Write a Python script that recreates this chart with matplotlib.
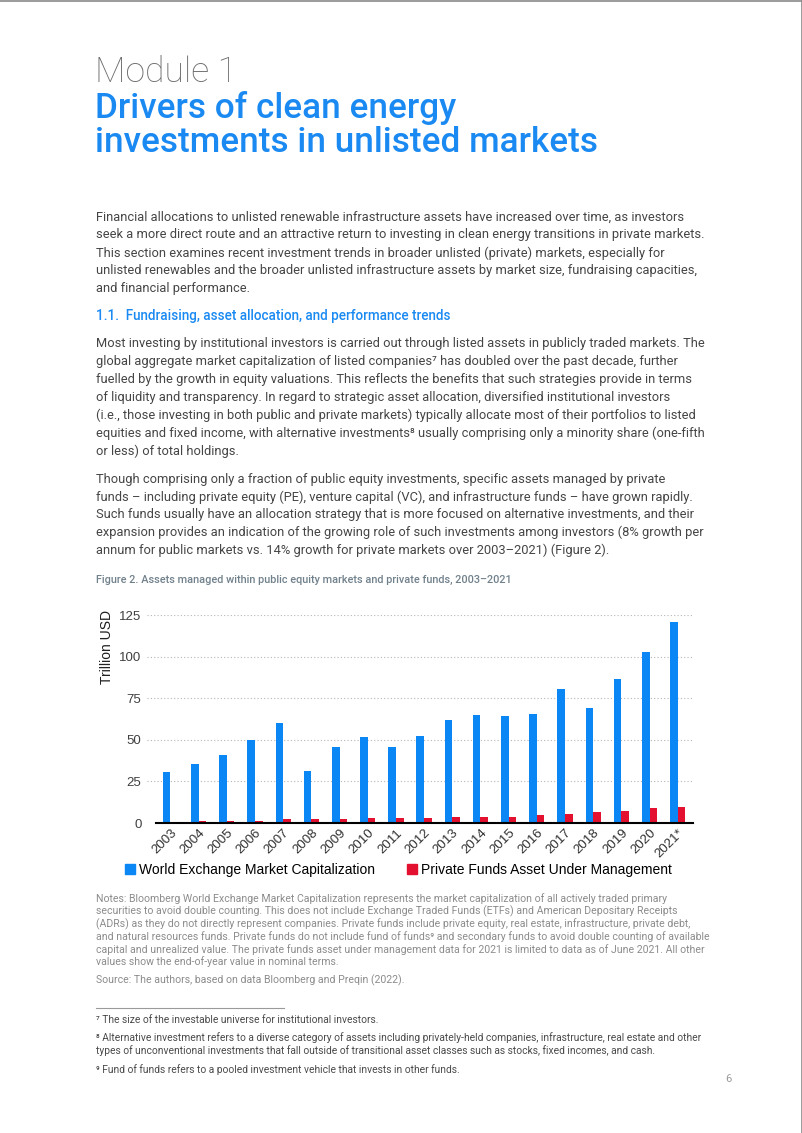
import matplotlib
matplotlib.use("Agg")
import matplotlib.pyplot as plt
from matplotlib.patches import Patch
from matplotlib.lines import Line2D
import numpy as np

# ---------------- data ----------------
years = ["2003", "2004", "2005", "2006", "2007", "2008", "2009", "2010", "2011", "2012",
         "2013", "2014", "2015", "2016", "2017", "2018", "2019", "2020", "2021*"]
world_cap = [30.6, 35.6, 40.6, 50.0, 59.8, 31.4, 45.8, 51.6, 45.8, 52.4,
             61.6, 65.0, 64.2, 65.8, 80.8, 69.2, 86.6, 102.6, 121.0]
private_aum = [0.6, 1.4, 1.4, 1.4, 2.2, 2.2, 2.2, 3.0, 3.0, 3.0,
               3.8, 3.8, 3.8, 4.6, 5.6, 6.4, 7.4, 9.0, 9.6]
yticks = [0, 25, 50, 75, 100, 125]
series_labels = ["World Exchange Market Capitalization", "Private Funds Asset Under Management"]

# ---------------- page text ----------------
module_line = "Module 1"
title_lines = ["Drivers of clean energy", "investments in unlisted markets"]
para1 = [
    "Financial allocations to unlisted renewable infrastructure assets have increased over time, as investors",
    "seek a more direct route and an attractive return to investing in clean energy transitions in private markets.",
    "This section examines recent investment trends in broader unlisted (private) markets, especially for",
    "unlisted renewables and the broader unlisted infrastructure assets by market size, fundraising capacities,",
    "and financial performance.",
]
heading = "1.1.  Fundraising, asset allocation, and performance trends"
para2 = [
    "Most investing by institutional investors is carried out through listed assets in publicly traded markets. The",
    "global aggregate market capitalization of listed companies\u2077 has doubled over the past decade, further",
    "fuelled by the growth in equity valuations. This reflects the benefits that such strategies provide in terms",
    "of liquidity and transparency. In regard to strategic asset allocation, diversified institutional investors",
    "(i.e., those investing in both public and private markets) typically allocate most of their portfolios to listed",
    "equities and fixed income, with alternative investments\u2078 usually comprising only a minority share (one-fifth",
    "or less) of total holdings.",
]
para3 = [
    "Though comprising only a fraction of public equity investments, specific assets managed by private",
    "funds \u2013 including private equity (PE), venture capital (VC), and infrastructure funds \u2013 have grown rapidly.",
    "Such funds usually have an allocation strategy that is more focused on alternative investments, and their",
    "expansion provides an indication of the growing role of such investments among investors (8% growth per",
    "annum for public markets vs. 14% growth for private markets over 2003\u20132021) (Figure 2).",
]
caption = "Figure 2. Assets managed within public equity markets and private funds, 2003\u20132021"
notes = [
    "Notes: Bloomberg World Exchange Market Capitalization represents the market capitalization of all actively traded primary",
    "securities to avoid double counting. This does not include Exchange Traded Funds (ETFs) and American Depositary Receipts",
    "(ADRs) as they do not directly represent companies. Private funds include private equity, real estate, infrastructure, private debt,",
    "and natural resources funds. Private funds do not include fund of funds\u2079 and secondary funds to avoid double counting of available",
    "capital and unrealized value. The private funds asset under management data for 2021 is limited to data as of June 2021. All other",
    "values show the end-of-year value in nominal terms.",
]
source = "Source: The authors, based on data Bloomberg and Preqin (2022)."
footnotes = [
    ["\u2077 The size of the investable universe for institutional investors."],
    ["\u2078 Alternative investment refers to a diverse category of assets including privately-held companies, infrastructure, real estate and other",
     "types of unconventional investments that fall outside of transitional asset classes such as stocks, fixed incomes, and cash."],
    ["\u2079 Fund of funds refers to a pooled investment vehicle that invests in other funds."],
]
page_no = "6"

# ---------------- figure ----------------
W, H = 802, 1133
fig = plt.figure(figsize=(W / 100, H / 100), dpi=100)
renderer = fig.canvas.get_renderer()

BODY = ["Roboto", "DejaVu Sans"]
CHART = ["Liberation Sans", "DejaVu Sans"]
BLUE = "#0a86f5"
TITLE_BLUE = "#1a8af2"
RED = "#e3102f"
TEXT = "#454545"


def fy(y):
    return 1 - y / H


def fx(x):
    return x / W


def fit(text, target, **kw):
    t = fig.text(0, 0, text, fontsize=10, **kw)
    w = t.get_window_extent(renderer).width
    t.remove()
    return 10 * target / w


def put(x, y, s, **kw):
    fig.text(fx(x), fy(y), s, va="center", ha="left", **kw)


X0 = 96
# Title
fs_mod = fit(module_line, 142, family=BODY, weight="light")
put(X0 - 1, 72, module_line, fontsize=fs_mod, family=BODY, weight="light", color="#6e6e6e")
fs_title = fit(title_lines[1], 502, family=BODY, weight="medium")
for i, s in enumerate(title_lines):
    put(X0 - 1, 108 + i * 35, s, fontsize=fs_title, family=BODY, weight="medium", color=TITLE_BLUE)

# Body
fs_body = fit(para1[1], 610, family=BODY, weight="normal")
LS = 17.9
for i, s in enumerate(para1):
    put(X0, 217 + i * LS, s, fontsize=fs_body, family=BODY, color=TEXT)
fs_head = fit(heading, 354, family=BODY, weight="medium")
put(X0, 316, heading, fontsize=fs_head, family=BODY, weight="medium", color=TITLE_BLUE)
for i, s in enumerate(para2):
    put(X0, 344 + i * LS, s, fontsize=fs_body, family=BODY, color=TEXT)
for i, s in enumerate(para3):
    put(X0, 479 + i * LS, s, fontsize=fs_body, family=BODY, color=TEXT)

fs_cap = fit(caption, 414, family=BODY, weight="medium")
put(X0, 580, caption, fontsize=fs_cap, family=BODY, weight="medium", color="#71818c")

# Notes
fs_notes = fit(notes[3], 609, family=BODY, weight="normal")
for i, s in enumerate(notes):
    put(X0, 899 + i * 12.6, s, fontsize=fs_notes, family=BODY, color="#8c8c8c")
put(X0, 980, source, fontsize=fs_notes, family=BODY, color="#8c8c8c")

# separator
fig.add_artist(Line2D([fx(96), fx(284)], [fy(1008), fy(1008)], color="#9a9a9a", lw=0.8))

fs_foot = fit(footnotes[1][0], 606, family=BODY, weight="normal")
foot_y = [1020, 1038, 1070]
for ys, lines in zip(foot_y, footnotes):
    for j, s in enumerate(lines):
        put(X0, ys + j * 13, s, fontsize=fs_foot, family=BODY, color="#4a4a4a")
put(725, 1079, page_no, fontsize=fs_foot * 1.1, family=BODY, color="#9a9a9a")

# page border (top and right)
fig.add_artist(Line2D([0, 1], [fy(0.5), fy(0.5)], color="#8a8a8a", lw=1.2))
fig.add_artist(Line2D([fx(801.5), fx(801.5)], [0, 1], color="#8a8a8a", lw=1.2))

# ---------------- chart ----------------
ax_left, ax_right, ax_top, ax_bot = 147, 693, 615, 823
ax = fig.add_axes([fx(ax_left), fy(ax_bot), (ax_right - ax_left) / W, (ax_bot - ax_top) / H])
x = np.arange(len(years))
bw = 0.27
ax.bar(x - bw / 2, world_cap, width=bw, color=BLUE, zorder=3)
ax.bar(x + bw / 2, private_aum, width=bw, color=RED, zorder=3)
ax.set_ylim(0, 125)
ax.set_xlim(-0.83, len(years) - 1 + 0.54)
ax.set_yticks(yticks)
ax.yaxis.grid(True, linestyle=(0, (1, 2)), color="#b5b5b5", lw=0.8, zorder=0)
for sp in ax.spines.values():
    sp.set_visible(False)
ax.plot([-0.51, len(years) - 1 + 0.54], [0, 0], color="black", lw=1.5, zorder=4, clip_on=False)
ax.tick_params(axis="y", length=0, pad=4, labelsize=9.5, labelcolor="#404040")
for lab in ax.get_yticklabels():
    lab.set_family(CHART)
ax.set_xticks(x)
ax.set_xticklabels(years, rotation=45, ha="right", va="top", rotation_mode="anchor",
                   fontsize=9.5, color="#303030", family=CHART)
ax.tick_params(axis="x", length=0, pad=3)

fig.text(fx(107), fy(610), "Trillion USD", rotation=90, ha="center", va="top",
         fontsize=10, family=CHART, color="#202020")

handles = [Patch(color=BLUE), Patch(color=RED)]
fig.legend(handles, series_labels, loc="center left", bbox_to_anchor=(fx(125), fy(870)),
           ncol=2, frameon=False, handlelength=0.7, handleheight=0.7, handletextpad=0.3,
           columnspacing=2.3, borderpad=0, borderaxespad=0,
           prop={"family": CHART, "size": 10})

fig.savefig("out.png", dpi=100)
